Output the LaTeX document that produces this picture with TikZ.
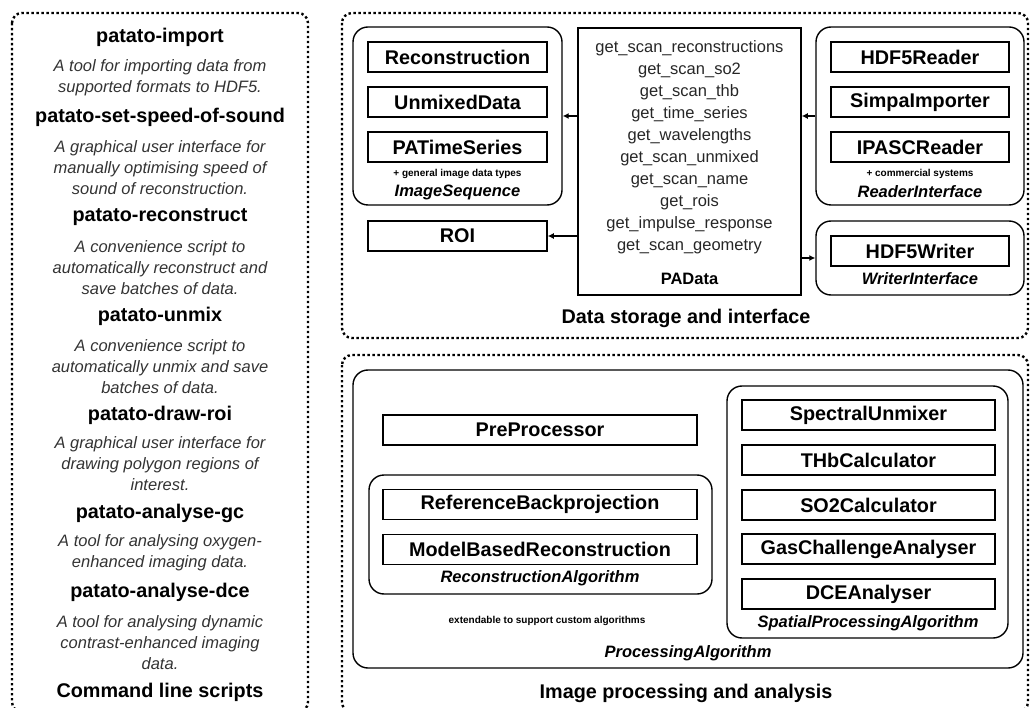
\documentclass[tikz,border=0pt]{standalone}
\usepackage{fontspec}
\setmainfont{Liberation Sans}
\usetikzlibrary{arrows.meta}

\begin{document}
\begin{tikzpicture}[x=1pt,y=-1pt,>={Latex[length=6pt,width=6pt]},
  cls/.style={draw,line width=1.5pt,minimum height=30pt,inner sep=0pt,
    font=\bfseries\fontsize{19.8}{22}\selectfont},
  grp/.style={draw,line width=1.4pt,rounded corners=15pt,inner sep=0pt},
  sect/.style={line width=2.4pt,dash pattern=on 2.4pt off 2.6pt,rounded corners=10pt},
  heading/.style={font=\bfseries\fontsize{19.8}{22}\selectfont},
  desc/.style={align=center,text=black!80,font=\itshape\fontsize{16.5}{21}\selectfont},
  iface/.style={font=\bfseries\itshape\fontsize{16.5}{20}\selectfont},
  note/.style={font=\bfseries\fontsize{10}{12}\selectfont}]
  \useasboundingbox (0,0) rectangle (1030,708);

  % command line scripts
  \draw[sect] (12,13) rectangle (308,712);
  \node[heading] (imp) at (160,37) {patato-import};
  \node[desc] (impd) at (160,77.5) {A tool for importing data from\\supported formats to HDF5.};
  \node[heading] (sos) at (160,117) {patato-set-speed-of-sound};
  \node[desc] (sosd) at (160,168) {A graphical user interface for\\manually optimising speed of\\sound of reconstruction.};
  \node[heading] (rec) at (160,217) {patato-reconstruct};
  \node[desc] (recd) at (160,268) {A convenience script to\\automatically reconstruct and\\save batches of data.};
  \node[heading] (unm) at (160,316) {patato-unmix};
  \node[desc] (unmd) at (160,367) {A convenience script to\\automatically unmix and save\\batches of data.};
  \node[heading] (droi) at (160,415) {patato-draw-roi};
  \node[desc] (droid) at (160,464) {A graphical user interface for\\drawing polygon regions of\\interest.};
  \node[heading] (agc) at (160,513) {patato-analyse-gc};
  \node[desc] (agcd) at (160,553) {A tool for analysing oxygen-\\enhanced imaging data.};
  \node[heading] (adce) at (160,592) {patato-analyse-dce};
  \node[desc] (adced) at (160,643) {A tool for analysing dynamic\\contrast-enhanced imaging\\data.};
  \node[heading] (cls) at (160,692) {Command line scripts};

  % data storage and interface
  \draw[sect] (342,13) rectangle (1028,338);
  \node[grp,minimum width=209pt,minimum height=178pt] (imgseq) at (457.5,116) {};
  \node[cls,minimum width=179pt] (recon) at (457.5,57) {Reconstruction};
  \node[cls,minimum width=179pt] (unmixed) at (457.5,102) {UnmixedData};
  \node[cls,minimum width=179pt] (ts) at (457.5,147) {PATimeSeries};
  \node[note] (imgnote) at (457.5,174) {+ general image data types};
  \node[iface] (imglbl) at (457.5,192) {ImageSequence};
  \node[cls,minimum width=179pt] (roi) at (457.5,236) {ROI};

  \node[draw,line width=1.5pt,minimum width=223pt,minimum height=267pt] (pad) at (689.5,161.5) {};
  \node[align=center,text=black!85,font=\fontsize{16.5}{22}\selectfont] (padfun) at (689.5,147)
    {get\_scan\_reconstructions\\get\_scan\_so2\\get\_scan\_thb\\get\_time\_series\\get\_wavelengths\\
     get\_scan\_unmixed\\get\_scan\_name\\get\_rois\\get\_impulse\_response\\get\_scan\_geometry};
  \node[font=\bfseries\fontsize{16.5}{20}\selectfont] (padlbl) at (689.5,279) {PAData};

  \node[grp,minimum width=208pt,minimum height=178pt] (reader) at (920,116) {};
  \node[cls,minimum width=178pt] (hdfr) at (920,57) {HDF5Reader};
  \node[cls,minimum width=178pt] (simpa) at (920,102) {SimpaImporter};
  \node[cls,minimum width=178pt] (ipasc) at (920,147) {IPASCReader};
  \node[note] (readnote) at (920,174) {+ commercial systems};
  \node[iface] (readlbl) at (920,192) {ReaderInterface};

  \node[grp,minimum width=208pt,minimum height=74pt] (writer) at (920,258) {};
  \node[cls,minimum width=178pt] (hdfw) at (920,251) {HDF5Writer};
  \node[iface] (writelbl) at (920,279) {WriterInterface};

  \draw[->,line width=1.4pt] (pad.west |- imgseq.east) -- (imgseq.east);
  \draw[->,line width=1.4pt] (pad.west |- roi.east) -- (roi.east);
  \draw[->,line width=1.4pt] (reader.west) -- (pad.east |- reader.west);
  \draw[->,line width=1.4pt] (pad.east |- writer.west) -- (writer.west);
  \node[heading] (storage) at (686,318) {Data storage and interface};

  % image processing and analysis
  \draw[sect] (342,355) rectangle (1028,712);
  \node[grp,minimum width=670pt,minimum height=298pt] (proc) at (688,519) {};
  \node[cls,minimum width=314pt] (pre) at (540,430) {PreProcessor};
  \node[grp,minimum width=343pt,minimum height=119pt] (recalg) at (540.5,534.5) {};
  \node[cls,minimum width=314pt] (refbp) at (540,504.5) {ReferenceBackprojection};
  \node[cls,minimum width=314pt] (mbr) at (540,549.5) {ModelBasedReconstruction};
  \node[iface] (recalglbl) at (540,578) {ReconstructionAlgorithm};
  \node[note] (extnote) at (547,621) {extendable to support custom algorithms};

  \node[grp,minimum width=281pt,minimum height=252pt] (spatial) at (867.5,512) {};
  \node[cls,minimum width=253pt] (spec) at (868.5,415) {SpectralUnmixer};
  \node[cls,minimum width=253pt] (thb) at (868.5,460) {THbCalculator};
  \node[cls,minimum width=253pt] (so2) at (868.5,505) {SO2Calculator};
  \node[cls,minimum width=253pt] (gas) at (868.5,549) {GasChallengeAnalyser};
  \node[cls,minimum width=253pt] (dce) at (868.5,594) {DCEAnalyser};
  \node[iface] (spatlbl) at (868,623) {SpatialProcessingAlgorithm};
  \node[iface] (proclbl) at (688,653) {ProcessingAlgorithm};
  \node[heading] (imgproc) at (686,693) {Image processing and analysis};
\end{tikzpicture}
\end{document}
